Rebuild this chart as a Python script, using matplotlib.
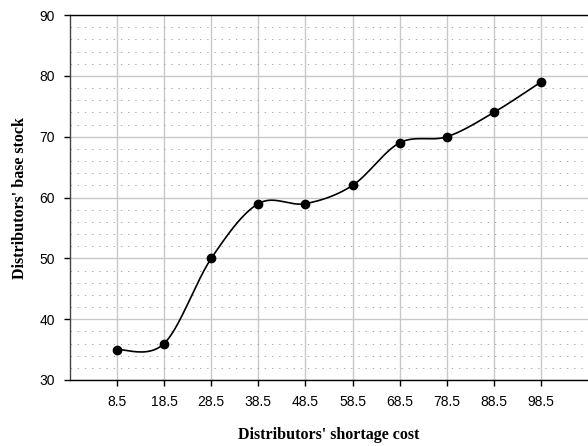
import numpy as np
import matplotlib.pyplot as plt
from matplotlib.ticker import MultipleLocator

shortage_cost = [8.5, 18.5, 28.5, 38.5, 48.5, 58.5, 68.5, 78.5, 88.5, 98.5]
base_stock = [35, 36, 50, 59, 59, 62, 69, 70, 74, 79]


def smooth(xs, ys, n=40):
    # Catmull-Rom through every point, end points repeated
    px = [xs[0]] + list(xs) + [xs[-1]]
    py = [ys[0]] + list(ys) + [ys[-1]]
    out_x, out_y = [], []
    t = np.linspace(0, 1, n)
    for i in range(1, len(px) - 2):
        x0, x1, x2, x3 = px[i - 1:i + 3]
        y0, y1, y2, y3 = py[i - 1:i + 3]
        cx1, cy1 = x1 + (x2 - x0) / 6, y1 + (y2 - y0) / 6
        cx2, cy2 = x2 - (x3 - x1) / 6, y2 - (y3 - y1) / 6
        bx = (1 - t) ** 3 * x1 + 3 * (1 - t) ** 2 * t * cx1 + 3 * (1 - t) * t ** 2 * cx2 + t ** 3 * x2
        by = (1 - t) ** 3 * y1 + 3 * (1 - t) ** 2 * t * cy1 + 3 * (1 - t) * t ** 2 * cy2 + t ** 3 * y2
        out_x.extend(bx)
        out_y.extend(by)
    return out_x, out_y


fig = plt.figure(figsize=(5.88, 4.46), dpi=100)
ax = fig.add_axes([0.119, 0.148, 0.881, 0.818])

ax.set_xlim(-1.5, 108.5)
ax.set_ylim(30, 90)

ax.set_xticks(shortage_cost)
ax.set_xticklabels([str(v) for v in shortage_cost], fontsize=10, family='Liberation Sans')
ax.yaxis.set_major_locator(MultipleLocator(10))
ax.yaxis.set_minor_locator(MultipleLocator(2))
for lab in ax.get_yticklabels():
    lab.set_family('Liberation Sans')
    lab.set_fontsize(10)

ax.grid(which='major', axis='both', color='#c8c8c8', linewidth=1.0)
ax.grid(which='minor', axis='y', color='#a8a8a8', linewidth=0.7, linestyle=(0, (1.4, 6)))
ax.tick_params(axis='both', which='major', length=4, width=1, direction='out', color='black', pad=7)
ax.tick_params(axis='y', which='minor', length=0)
ax.set_axisbelow(True)

for side in ['left', 'bottom', 'top']:
    ax.spines[side].set_color('black')
    ax.spines[side].set_linewidth(1.0)
ax.spines['left'].set_color('#444444')
ax.spines['right'].set_visible(False)

sx, sy = smooth(shortage_cost, base_stock)
ax.plot(sx, sy, color='black', linewidth=1.2)
ax.plot(shortage_cost, base_stock, 'o', color='black', markersize=6)

ax.set_xlabel("Distributors' shortage cost", family='Liberation Serif', fontweight='bold',
              fontsize=11.5, labelpad=13)
ax.set_ylabel("Distributors' base stock", family='Liberation Serif', fontweight='bold',
              fontsize=11.5, labelpad=8)

fig.savefig('out.png', dpi=100, facecolor='white')
